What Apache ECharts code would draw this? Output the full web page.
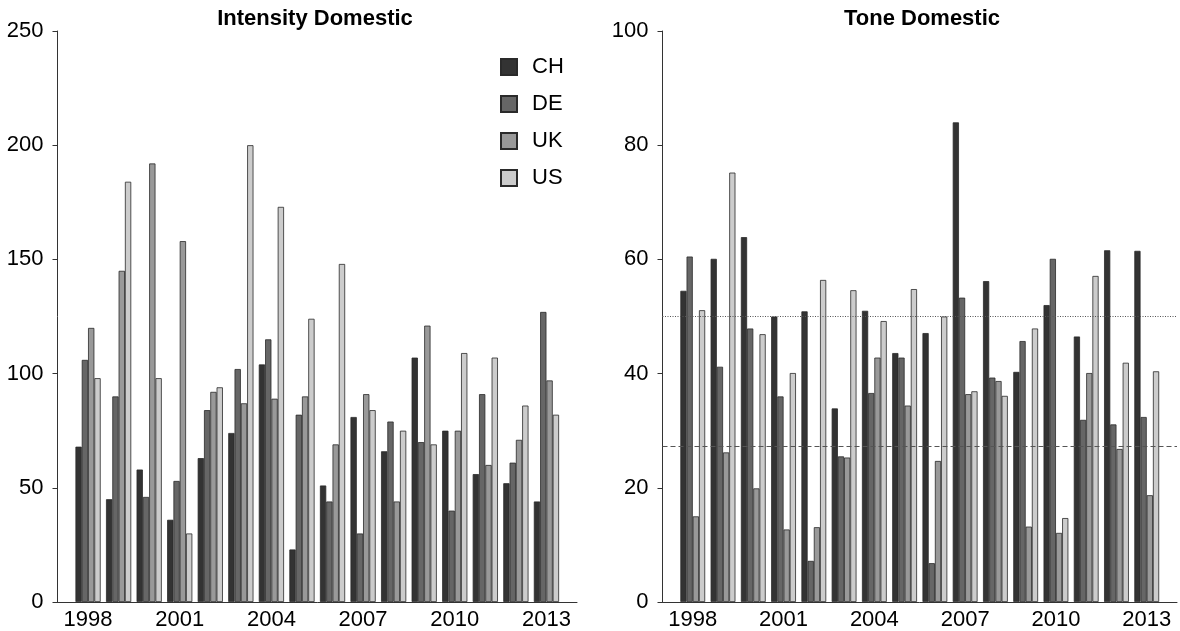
<!DOCTYPE html>
<html>
<head>
<meta charset="utf-8">
<script src="https://cdn.jsdelivr.net/npm/echarts@6/dist/echarts.min.js"></script>
<style>
html,body{margin:0;padding:0;background:#fff;}
#chart{width:1180px;height:631px;}
</style>
</head>
<body>
<div id="chart"></div>
<script>
const years = [1998,1999,2000,2001,2002,2003,2004,2005,2006,2007,2008,2009,2010,2011,2012,2013];
const xTickLabels = ['1998','2001','2004','2007','2010','2013'];
const countries = ['CH','DE','UK','US'];

const intensityCH = [68,45,58,36,63,74,104,23,51,81,66,107,75,56,52,44];
const intensityDE = [106,90,46,53,84,102,115,82,44,30,79,70,40,91,61,127];
const intensityUK = [120,145,192,158,92,87,89,90,69,91,44,121,75,60,71,97];
const intensityUS = [98,184,98,30,94,200,173,124,148,84,75,69,109,107,86,82];

const toneCH = [54.5,60.1,63.9,50.0,50.9,33.9,51.0,43.6,47.1,84.0,56.2,40.3,52.0,46.5,61.6,61.5];
const toneDE = [60.5,41.2,47.9,36.0,7.2,25.5,36.6,42.8,6.8,53.3,39.3,45.7,60.1,31.9,31.1,32.4];
const toneUK = [15.0,26.2,19.9,12.7,13.1,25.3,42.8,34.4,24.7,36.4,38.7,13.2,12.1,40.1,26.8,18.7];
const toneUS = [51.1,75.2,46.9,40.1,56.4,54.6,49.2,54.8,50.0,36.9,36.1,47.9,14.7,57.1,41.9,40.4];

const intensityTicks = [0,50,100,150,200,250];
const toneTicks = [0,20,40,60,80,100];
const toneRefLines = [50, 27.3];

const colors = ['#333333','#666666','#999999','#cccccc'];
const FONT = 'Liberation Sans, Arial, sans-serif';

function pairs(vals){ return years.map((y,i)=>[y, vals[i]]); }

const intensity = [intensityCH, intensityDE, intensityUK, intensityUS];
const tone = [toneCH, toneDE, toneUK, toneUS];

function xAxisCfg(gi){
  return {
    type:'value', gridIndex:gi, min:1997, max:2014, interval:1,
    axisLine:{show:true, lineStyle:{color:'#333', width:1}},
    axisTick:{show:false},
    splitLine:{show:false},
    axisLabel:{
      fontFamily:FONT, fontSize:22, color:'#000', margin:7,
      formatter:function(v){ const s=String(Math.round(v)); return xTickLabels.indexOf(s)>=0 ? s : ''; }
    }
  };
}
function yAxisCfg(gi, ticks){
  return {
    type:'value', gridIndex:gi, min:ticks[0], max:ticks[ticks.length-1], interval:ticks[1]-ticks[0],
    axisLine:{show:true, lineStyle:{color:'#333', width:1}},
    axisTick:{show:true, length:5, lineStyle:{color:'#333'}},
    splitLine:{show:false},
    axisLabel:{fontFamily:FONT, fontSize:22, color:'#000', margin:14}
  };
}

const series = [];
countries.forEach((c,k)=>{
  series.push({
    name:c, type:'bar', xAxisIndex:0, yAxisIndex:0,
    data:pairs(intensity[k]), barWidth:6.3, barGap:'0%',
    itemStyle:{color:colors[k], borderColor:'#2a2a2a', borderWidth:0.8},
    emphasis:{disabled:true}
  });
});
countries.forEach((c,k)=>{
  const s = {
    name:c, type:'bar', xAxisIndex:1, yAxisIndex:1,
    data:pairs(tone[k]), barWidth:6.2, barGap:'0%',
    itemStyle:{color:colors[k], borderColor:'#2a2a2a', borderWidth:0.8},
    emphasis:{disabled:true}
  };
  if(k===3){
    s.markLine = {
      silent:true, symbol:'none', label:{show:false}, animation:false,
      data:[
        {yAxis:toneRefLines[0], lineStyle:{type:[1,1.5], color:'#555', width:1}},
        {yAxis:toneRefLines[1], lineStyle:{type:[5,3], color:'#555', width:1}}
      ]
    };
  }
  series.push(s);
});

const chart = echarts.init(document.getElementById('chart'), null, {renderer:'canvas'});
chart.setOption({
  animation:false,
  backgroundColor:'#fff',
  title:[
    {text:'Intensity Domestic', left:310, top:3, textAlign:'center',
     textStyle:{fontFamily:FONT, fontSize:22, fontWeight:'bold', color:'#000'}},
    {text:'Tone Domestic', left:917, top:3, textAlign:'center',
     textStyle:{fontFamily:FONT, fontSize:22, fontWeight:'bold', color:'#000'}}
  ],
  legend:{
    data:countries, orient:'vertical', left:495, top:51,
    icon:'rect', itemWidth:16, itemHeight:16, itemGap:15,
    textStyle:{fontFamily:FONT, fontSize:22, color:'#000', padding:[0,0,0,10]},
    selectedMode:false
  },
  grid:[
    {left:57.5, top:31, width:519.5, bottom:28, containLabel:false},
    {left:662.5, top:31, width:519.5, bottom:28, containLabel:false}
  ],
  xAxis:[xAxisCfg(0), xAxisCfg(1)],
  yAxis:[yAxisCfg(0, intensityTicks), yAxisCfg(1, toneTicks)],
  series:series
});
</script>
</body>
</html>
